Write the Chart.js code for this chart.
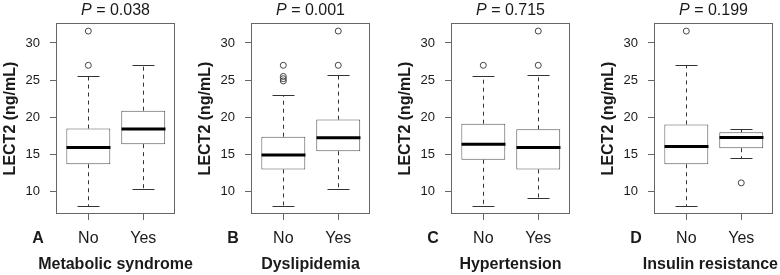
<!DOCTYPE html>
<html>
<head>
<meta charset="utf-8">
<script src="https://cdn.jsdelivr.net/npm/chart.js@4.4.0/dist/chart.umd.min.js"></script>
<style>
  html, body { margin: 0; padding: 0; background: #fff; overflow: hidden; }
  #wrap { position: relative; width: 780px; height: 275px; }
  .panel { position: absolute; top: 0; height: 275px; }
</style>
</head>
<body>
<div id="wrap"></div>
<script>
// LECT2 by metabolic status: four R-style box plots (No / Yes per panel).

const PANELS = ["A", "B", "C", "D"];
const X_TITLES = ["Metabolic syndrome", "Dyslipidemia", "Hypertension", "Insulin resistance"];
const P_VALUES = ["0.038", "0.001", "0.715", "0.199"];
const GROUPS = ["No", "Yes"];
const Y_TICKS = [10, 15, 20, 25, 30];

// box stats per panel, [No, Yes]
const LOWER  = [[8.1, 10.4], [8.1, 10.4], [8.1, 9.2], [8.1, 14.5]];
const Q1     = [[13.7, 16.4], [13.0, 15.45], [14.3, 13.0], [13.7, 15.85]];
const MEDIAN = [[15.95, 18.45], [14.95, 17.25], [16.4, 15.95], [16.1, 17.3]];
const Q3     = [[18.5, 20.9], [17.4, 19.7], [19.15, 18.4], [19.05, 18.0]];
const UPPER  = [[25.6, 27.0], [23.0, 25.7], [25.5, 25.7], [27.0, 18.4]];
const OUTLIERS = [
  [[27.0, 31.6], []],
  [[24.9, 25.2, 25.5, 27.0], [27.0, 31.6]],
  [[27.0], [27.0, 31.6]],
  [[31.6], [11.2]],
];

// canvas placement (px)
const LEFTS = [0, 195, 395, 598];
const WIDTHS = [195, 195, 195, 182];
const Y_AXIS_W = 57, PLOT_W = 117, X_AXIS_H = 62, TOP = 24;

const FONT = "'Liberation Sans', Arial, sans-serif";
const INK = "#1a1a1a";
const GREY = "#666";

// whiskers, caps, medians, frame and the panel labels
const boxplot = {
  id: "boxplot",
  afterDatasetsDraw(chart, args, opts) {
    const i = opts.panel;
    const { ctx, scales: { x, y } } = chart;
    const unit = x.getPixelForValue(2) - x.getPixelForValue(1);
    ctx.save();
    GROUPS.forEach((g, k) => {
      const cx = Math.round(x.getPixelForValue(k + 1)) + 0.5;
      ctx.strokeStyle = "#333";
      ctx.lineWidth = 1;
      ctx.setLineDash([4, 4]);
      ctx.beginPath();
      ctx.moveTo(cx, y.getPixelForValue(Q3[i][k]));
      ctx.lineTo(cx, y.getPixelForValue(UPPER[i][k]));
      ctx.moveTo(cx, y.getPixelForValue(Q1[i][k]));
      ctx.lineTo(cx, y.getPixelForValue(LOWER[i][k]));
      ctx.stroke();
      ctx.setLineDash([]);
      ctx.beginPath();
      [UPPER[i][k], LOWER[i][k]].forEach((v) => {
        const py = Math.round(y.getPixelForValue(v)) + 0.5;
        ctx.moveTo(cx - unit * 0.2, py);
        ctx.lineTo(cx + unit * 0.2, py);
      });
      ctx.stroke();
      ctx.strokeStyle = "#000";
      ctx.lineWidth = 3;
      ctx.beginPath();
      const my = y.getPixelForValue(MEDIAN[i][k]);
      ctx.moveTo(cx - unit * 0.4, my);
      ctx.lineTo(cx + unit * 0.4, my);
      ctx.stroke();
    });
    ctx.restore();
  },
  afterDraw(chart, args, opts) {
    const i = opts.panel;
    const { ctx, chartArea: a } = chart;
    ctx.save();
    ctx.strokeStyle = GREY;
    ctx.lineWidth = 1;
    ctx.strokeRect(Math.round(a.left) - 0.5, Math.round(a.top) - 0.5,
      Math.round(a.right - a.left) + 1, Math.round(a.bottom - a.top) + 1);

    // "P = ..." header, italic P
    const cx = (a.left + a.right) / 2;
    const rest = " = " + P_VALUES[i];
    ctx.fillStyle = INK;
    ctx.textBaseline = "alphabetic";
    ctx.font = "italic 16px " + FONT;
    const wp = ctx.measureText("P").width;
    ctx.font = "16px " + FONT;
    const wr = ctx.measureText(rest).width;
    const x0 = cx - (wp + wr) / 2;
    ctx.font = "italic 16px " + FONT;
    ctx.fillText("P", x0, 15);
    ctx.font = "16px " + FONT;
    ctx.fillText(rest, x0 + wp, 15);

    // panel letter next to the group labels, group title underneath
    ctx.font = "bold 16px " + FONT;
    ctx.textAlign = "center";
    ctx.textBaseline = "middle";
    ctx.fillText(PANELS[i], a.left - 19, a.bottom + 26);
    const tw = ctx.measureText(X_TITLES[i]).width;
    ctx.fillText(X_TITLES[i], Math.min(cx, chart.width - tw / 2 - 2), 265);
    ctx.restore();
  },
};

function makePanel(i) {
  const div = document.createElement("div");
  div.className = "panel";
  div.style.left = LEFTS[i] + "px";
  div.style.width = WIDTHS[i] + "px";
  const canvas = document.createElement("canvas");
  canvas.width = WIDTHS[i];
  canvas.height = 275;
  div.appendChild(canvas);
  document.getElementById("wrap").appendChild(div);

  const outliers = [];
  GROUPS.forEach((g, k) => OUTLIERS[i][k].forEach((v) => outliers.push({ x: k + 1, y: v })));

  new Chart(canvas, {
    type: "bar",
    data: {
      datasets: [
        {
          data: GROUPS.map((g, k) => ({ x: k + 1, y: [Q1[i][k], Q3[i][k]] })),
          backgroundColor: "#fff",
          borderColor: "#555",
          borderWidth: 1,
          borderSkipped: false,
          categoryPercentage: 1,
          barPercentage: 0.8,
        },
        {
          type: "scatter",
          data: outliers,
          pointStyle: "circle",
          pointRadius: 3,
          backgroundColor: "rgba(0,0,0,0)",
          borderColor: "#444",
          borderWidth: 1,
        },
      ],
    },
    options: {
      responsive: false,
      animation: false,
      events: [],
      layout: { padding: { top: TOP, right: WIDTHS[i] - Y_AXIS_W - PLOT_W, left: 0, bottom: 0 } },
      plugins: { legend: { display: false }, tooltip: { enabled: false }, boxplot: { panel: i } },
      scales: {
        x: {
          type: "linear",
          min: 0.43,
          max: 2.56,
          offset: false,
          afterBuildTicks: (s) => { s.ticks = GROUPS.map((g, k) => ({ value: k + 1 })); },
          afterFit: (s) => { s.height = X_AXIS_H; },
          ticks: {
            color: INK,
            font: { family: FONT, size: 16 },
            padding: 9,
            maxRotation: 0,
            autoSkip: false,
            callback: (v) => GROUPS[v - 1],
          },
          grid: { drawOnChartArea: false, offset: false, tickLength: 7, color: GREY },
          border: { display: false },
        },
        y: {
          min: 7.15,
          max: 32.55,
          afterBuildTicks: (s) => { s.ticks = Y_TICKS.map((v) => ({ value: v })); },
          afterFit: (s) => { s.width = Y_AXIS_W; },
          ticks: { color: INK, font: { family: FONT, size: 13 }, padding: 10 },
          grid: { drawOnChartArea: false, tickLength: 7, color: GREY },
          border: { display: false },
          title: {
            display: true,
            text: "LECT2 (ng/mL)",
            color: INK,
            font: { family: FONT, size: 16, weight: "bold" },
            padding: { top: 1, bottom: 0 },
          },
        },
      },
    },
    plugins: [boxplot],
  });
}

PANELS.forEach((p, i) => makePanel(i));
</script>
</body>
</html>
